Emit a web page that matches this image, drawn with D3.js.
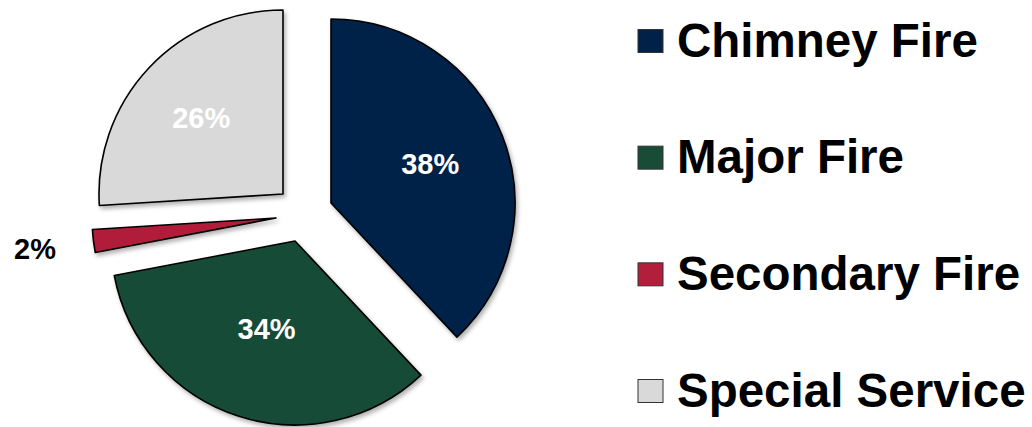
<!DOCTYPE html>
<html>
<head>
<meta charset="utf-8">
<script src="https://cdn.jsdelivr.net/npm/d3@7"></script>
<style>
    body { margin: 0; background: #fff; }
    svg { display: block; }
</style>
</head>
<body>
<div id="chart"></div>
<script>
//Data
let categories = ["Chimney Fire", "Major Fire", "Secondary Fire", "Special Service"];
let values = [38, 34, 2, 26];
let valueLabels = ["38%", "34%", "2%", "26%"];
let colors = ["#022149", "#184c37", "#b21f3a", "#d9d9d9"];

//dimensions
let width = 1032;
let height = 427;
let cx = 306;
let cy = 210;
let radius = 184;
// each slice is pulled out by its own amount, like the original
let explode = [[25, -7], [-11, 31], [-30, 8], [-23, -16]];
let labelRadius = [0.58, 0.5, 1.32, 0.61];
let labelColor = ["#fff", "#fff", "#000", "#fff"];

let svg = d3.select("#chart")
    .append("svg")
    .attr("width", width)
    .attr("height", height);

// soft shadow under the slices
svg.append("defs")
    .append("filter")
    .attr("id", "shadow")
    .attr("x", "-20%").attr("y", "-20%")
    .attr("width", "140%").attr("height", "140%")
    .append("feDropShadow")
    .attr("dx", 2)
    .attr("dy", 3)
    .attr("stdDeviation", 2)
    .attr("flood-color", "#000")
    .attr("flood-opacity", 0.3);

let color = d3.scaleOrdinal()
    .domain(categories)
    .range(colors);

let pie = d3.pie()
    .sort(null)
    .value(function (d) { return d; });
let arcs = pie(values);

let arc = d3.arc()
    .innerRadius(0)
    .outerRadius(radius);

let slices = svg.selectAll("g.slice")
    .data(arcs)
    .enter()
    .append("g")
    .attr("class", "slice")
    .attr("transform", function (d, i) {
        return "translate(" + (cx + explode[i][0]) + "," + (cy + explode[i][1]) + ")";
    });

slices.append("path")
    .attr("d", arc)
    .attr("fill", function (d, i) { return color(categories[i]); })
    .attr("stroke", "#000")
    .attr("stroke-width", 1.6)
    .attr("stroke-linejoin", "round")
    .attr("filter", "url(#shadow)");

slices.append("text")
    .attr("x", function (d, i) {
        let a = (d.startAngle + d.endAngle) / 2;
        return Math.sin(a) * radius * labelRadius[i];
    })
    .attr("y", function (d, i) {
        let a = (d.startAngle + d.endAngle) / 2;
        return -Math.cos(a) * radius * labelRadius[i];
    })
    .attr("dy", "0.36em")
    .attr("text-anchor", "middle")
    .attr("font-family", "'Liberation Sans', Arial, sans-serif")
    .attr("font-weight", "bold")
    .attr("font-size", 29)
    .attr("fill", function (d, i) { return labelColor[i]; })
    .text(function (d, i) { return valueLabels[i]; });

/**
 * Legend
 */
let legendY = d3.scalePoint()
    .domain(categories)
    .range([41, 391]);

let legend = svg.selectAll("g.legend")
    .data(categories)
    .enter()
    .append("g")
    .attr("class", "legend")
    .attr("transform", function (d) { return "translate(638," + legendY(d) + ")"; });

legend.append("rect")
    .attr("x", 0)
    .attr("y", -11.5)
    .attr("width", 25)
    .attr("height", 23)
    .attr("fill", function (d) { return color(d); })
    .attr("stroke", "#333")
    .attr("stroke-width", 1);

legend.append("text")
    .attr("x", 39)
    .attr("y", 15.5)
    .attr("font-family", "'Liberation Sans', Arial, sans-serif")
    .attr("font-weight", "bold")
    .attr("font-size", 47.5)
    .attr("fill", "#000")
    .text(function (d) { return d; });
</script>
</body>
</html>
